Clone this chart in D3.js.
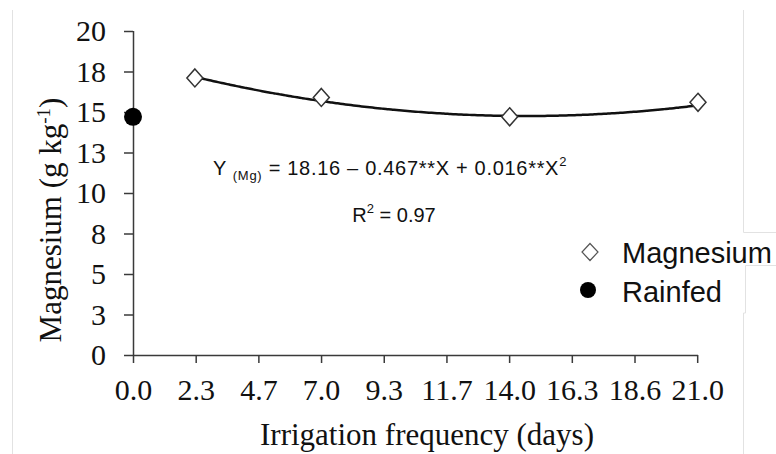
<!DOCTYPE html>
<html>
<head>
<meta charset="utf-8">
<script src="https://cdn.jsdelivr.net/npm/d3@7"></script>
<style>
  html, body { margin: 0; padding: 0; background: #fff; }
  svg { display: block; }
</style>
</head>
<body>
<svg id="chart" width="776" height="454"></svg>
<script>
// ---- data ----
const days = [2.3, 7.0, 14.0, 21.0];
const magnesium = [17.1, 15.9, 14.7, 15.6];
const rainfedDays = [0.0];
const rainfed = [14.7];
const fitCoefficients = [18.16, -0.467, 0.016]; // Y = a + bX + cX^2 (as printed)
const xTickValues = [0, 2.33, 4.66, 6.99, 9.32, 11.65, 13.98, 16.31, 18.64, 20.97];
const xTickLabels = ["0.0", "2.3", "4.7", "7.0", "9.3", "11.7", "14.0", "16.3", "18.6", "21.0"];
const yTickValues = [0, 2.5, 5, 7.5, 10, 12.5, 15, 17.5, 20];
const yTickLabels = ["0", "3", "5", "8", "10", "13", "15", "18", "20"];
const legendLabels = ["Magnesium", "Rainfed"];

// ---- layout ----
const svg = d3.select("#chart");
const x = d3.scaleLinear().domain([0, 21]).range([133, 698]);
const y = d3.scaleLinear().domain([0, 20]).range([355, 31]);
const axisColor = "#3a3a3a";
const serif = "'Liberation Serif', 'Times New Roman', serif";
const sans = "'Liberation Sans', Arial, sans-serif";

// faint frame lines (page borders in the reference)
const frame = svg.append("g").attr("stroke", "#e2e2e2").attr("stroke-width", 1).attr("fill", "none");
frame.append("path").attr("d", "M12.5,10 V454");
frame.append("path").attr("d", "M743.5,10 V232.5 H776");
frame.append("path").attr("d", "M776,265.5 H745.5 V313 H743.5 V454");

// axes
const yAxis = d3.axisLeft(y).tickValues(yTickValues)
  .tickFormat((d, i) => yTickLabels[i]).tickSize(9).tickSizeOuter(0).tickPadding(18);
const xAxis = d3.axisBottom(x).tickValues(xTickValues)
  .tickFormat((d, i) => xTickLabels[i]).tickSize(8).tickSizeOuter(0).tickPadding(16);

const gy = svg.append("g").attr("transform", `translate(${x(0)},0)`).call(yAxis);
const gx = svg.append("g").attr("transform", `translate(0,${y(0)})`).call(xAxis);
[gx, gy].forEach(g => {
  g.select(".domain").attr("stroke", axisColor).attr("stroke-width", 1.5);
  g.selectAll(".tick line").attr("stroke", axisColor).attr("stroke-width", 1.5);
  g.selectAll(".tick text").attr("fill", "#111").style("font-family", serif).style("font-size", "30px");
});
gx.select(".domain").attr("d", `M${x(0)},0.5H${x(21)}`);
gy.select(".domain").attr("d", `M0.5,${y(0)}V${y(20)}`);

// axis titles
svg.append("text")
  .attr("x", 427).attr("y", 445)
  .attr("text-anchor", "middle")
  .style("font-family", serif).style("font-size", "31px").attr("fill", "#111")
  .text("Irrigation frequency (days)");

const yt = svg.append("text")
  .attr("transform", "translate(61,220) rotate(-90)")
  .attr("text-anchor", "middle")
  .style("font-family", serif).style("font-size", "31px").attr("fill", "#111");
yt.append("tspan").text("Magnesium (g kg");
yt.append("tspan").attr("dy", -11).style("font-size", "19px").text("-1");
yt.append("tspan").attr("dy", 11).text(")");

// fitted curve from the printed regression
const curveX = d3.range(days[0], days[days.length - 1] + 0.001, 0.1);
const fit = X => fitCoefficients[0] + fitCoefficients[1] * X + fitCoefficients[2] * X * X;
svg.append("path")
  .datum(curveX)
  .attr("fill", "none").attr("stroke", "#111").attr("stroke-width", 2.5)
  .attr("d", d3.line().x(d => x(d)).y(d => y(fit(d))).curve(d3.curveMonotoneX));

// diamonds
const diamond = (cx, cy, hw, hh) => `M${cx},${cy - hh}L${cx + hw},${cy}L${cx},${cy + hh}L${cx - hw},${cy}Z`;
svg.append("g").selectAll("path")
  .data(days.map((d, i) => [d, magnesium[i]]))
  .join("path")
  .attr("d", d => diamond(x(d[0]), y(d[1]), 8, 9))
  .attr("fill", "#fff").attr("stroke", "#333").attr("stroke-width", 1.5);

// rainfed point
svg.append("g").selectAll("circle")
  .data(rainfedDays.map((d, i) => [d, rainfed[i]]))
  .join("circle")
  .attr("cx", d => x(d[0])).attr("cy", d => y(d[1])).attr("r", 9)
  .attr("fill", "#000");

// equation
const eq = svg.append("text")
  .attr("x", 390).attr("y", 175).attr("text-anchor", "middle")
  .style("font-family", sans).style("font-size", "20px").style("letter-spacing", "0.7px").attr("fill", "#111");
eq.append("tspan").text("Y ");
eq.append("tspan").attr("dy", 5).style("font-size", "13px").text("(Mg)");
eq.append("tspan").attr("dy", -5).text(" = 18.16 \u2013 0.467**X + 0.016**X");
eq.append("tspan").attr("dy", -9).style("font-size", "13px").text("2");

const r2 = svg.append("text")
  .attr("x", 394).attr("y", 222).attr("text-anchor", "middle")
  .style("font-family", sans).style("font-size", "20px").attr("fill", "#111");
r2.append("tspan").text("R");
r2.append("tspan").attr("dy", -9).style("font-size", "13px").text("2");
r2.append("tspan").attr("dy", 9).text(" = 0.97");

// legend
const lg = svg.append("g");
lg.append("path").attr("d", diamond(590, 252, 8, 8.5))
  .attr("fill", "#fff").attr("stroke", "#555").attr("stroke-width", 1.2);
lg.append("circle").attr("cx", 588).attr("cy", 290).attr("r", 8).attr("fill", "#000");
lg.selectAll("text").data(legendLabels).join("text")
  .attr("x", 622).attr("y", (d, i) => 263 + i * 39)
  .style("font-family", sans).style("font-size", "29px").attr("fill", "#111")
  .text(d => d);
</script>
</body>
</html>
